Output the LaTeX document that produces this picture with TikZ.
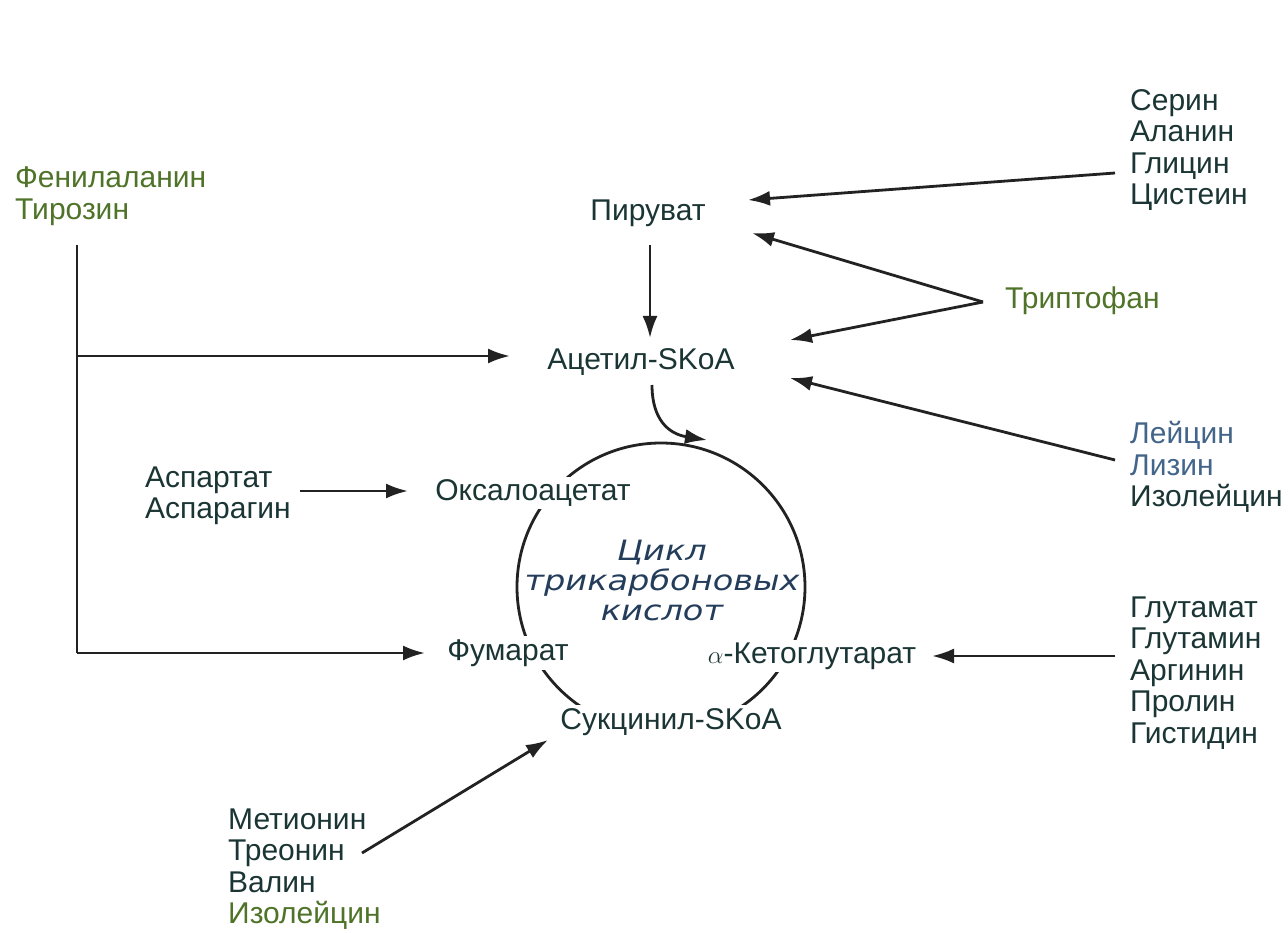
\documentclass[tikz,border=0pt]{standalone}
\usepackage{fontspec}
\setmainfont{Liberation Sans}
\newfontfamily\cycfont{DejaVu Sans}
\usetikzlibrary{arrows.meta,calc}
\definecolor{txt}{HTML}{1B3535}
\definecolor{grn}{HTML}{4F7328}
\definecolor{blu}{HTML}{426589}
\definecolor{cycc}{HTML}{243D5A}
\definecolor{lin}{HTML}{222222}
\begin{document}
\begin{tikzpicture}[x=1pt,y=-1pt,
  lbl/.style={inner sep=0pt, font=\fontsize{30}{31.5}\selectfont, text=txt, align=left},
  onring/.style={lbl, fill=white, inner sep=3pt},
  cyctext/.style={inner sep=0pt, font=\cycfont\itshape\fontsize{28}{30}\selectfont, text=cycc, align=center, xscale=1.2},
  arr/.style={line width=2.8pt, draw=lin, -{Latex[length=22pt,width=15pt]}},
  ln/.style={line width=2.8pt, draw=lin}]
\useasboundingbox (0,0) rectangle (1288,933);
\fill[white] (0,0) rectangle (1288,933);
% cycle ring
\coordinate (O) at (661,587);
\draw[ln] (O) circle (144pt);
% labels
\node[lbl, anchor=west] (ser) at (1130,150) {Серин\\Аланин\\Глицин\\Цистеин};
\node[lbl, anchor=west] (fen) at (15,196) {\textcolor{grn}{Фенилаланин}\\\textcolor{grn}{Тирозин}};
\node[lbl] (pyr) at (648,213) {Пируват};
\node[lbl, anchor=west, text=grn] (trp) at (1005,301) {Триптофан};
\node[lbl] (acet) at (641,362) {Ацетил-SKoA};
\node[lbl, anchor=west] (leu) at (1130,467) {\textcolor{blu}{Лейцин}\\\textcolor{blu}{Лизин}\\Изолейцин};
\node[lbl, anchor=west] (asp) at (145,496) {Аспартат\\Аспарагин};
\node[onring] (oxa) at (533,493) {Оксалоацетат};
\node[onring] (fum) at (508,653) {Фумарат};
\node[onring] (akg) at (812,656) {$\alpha$-Кетоглутарат};
\node[onring] (suc) at (671,722) {Сукцинил-SKoA};
\node[lbl, anchor=west] (glu) at (1130,673) {Глутамат\\Глутамин\\Аргинин\\Пролин\\Гистидин};
\node[lbl, anchor=west] (met) at (228,869) {Метионин\\Треонин\\Валин\\\textcolor{grn}{Изолейцин}};
\node[cyctext] (cyc) at (662,580) {Цикл\\трикарбоновых\\кислот};
% junctions
\coordinate (fj1) at (77,356);
\coordinate (fj2) at (77,653);
\coordinate (tv) at ($(trp.west)+(-22,1)$);
% connectors
\draw[arr] ($(ser.west)+(-15,23)$) -- ($(pyr.center)+(100,-13)$);
\draw[arr] (tv) -- ($(pyr.center)+(104,20)$);
\draw[arr] (tv) -- ($(acet.center)+(149,-22)$);
\draw[arr] ($(leu.west)+(-15,-7)$) -- ($(acet.center)+(149,16)$);
\draw[arr] ($(pyr.center)+(2,32)$) -- ($(acet.center)+(9,-24)$);
\draw[arr] ($(acet.center)+(11,23)$) .. controls ($(acet.center)+(11,58)$) and ($(acet.center)+(28,72)$) .. ($(O)+(46,-147)$);
\draw[ln] ($(fen.west)+(62,49)$) -- (fj2);
\draw[arr] (fj1) -- ($(acet.center)+(-131,-6)$);
\draw[arr] (fj2) -- ($(fum.center)+(-83,0)$);
\draw[arr] ($(asp.west)+(155,-5)$) -- ($(oxa.center)+(-125,-2)$);
\draw[arr] ($(glu.west)+(-15,-17)$) -- ($(akg.center)+(120,0)$);
\draw[arr] ($(met.west)+(134,-16)$) -- ($(suc.center)+(-123,18)$);
\end{tikzpicture}
\end{document}
